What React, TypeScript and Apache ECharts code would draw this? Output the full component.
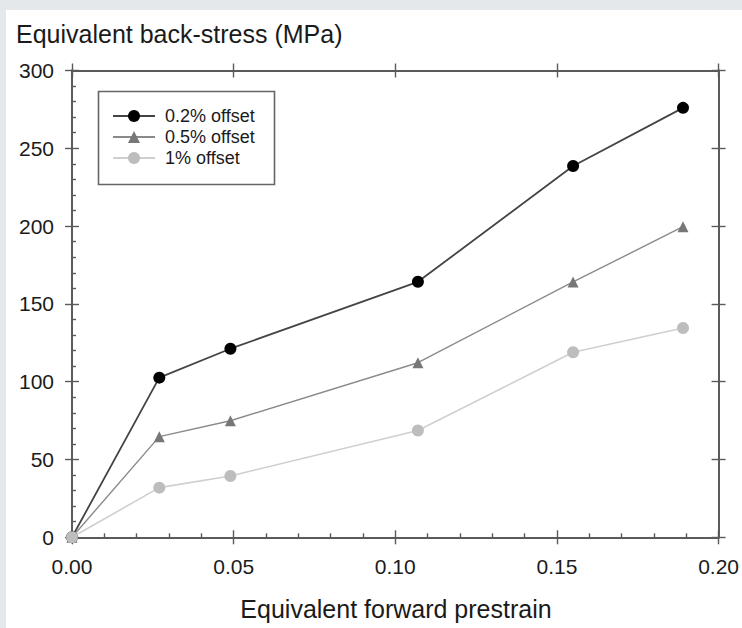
import React, { useEffect, useRef } from "react";
import * as echarts from "echarts";

const strain = [0, 0.027, 0.049, 0.107, 0.155, 0.189];
const offset02 = [0, 102.6, 121.2, 164.2, 238.6, 276];
const offset05 = [0, 64.7, 74.9, 112.2, 164.1, 199.6];
const offset1 = [0, 31.9, 39.4, 68.6, 118.9, 134.5];
const seriesNames = ["0.2% offset", "0.5% offset", "1% offset"];
const xTickLabels = ["0.00", "0.05", "0.10", "0.15", "0.20"];
const yTickLabels = ["0", "50", "100", "150", "200", "250", "300"];
const yTitle = "Equivalent back-stress (MPa)";
const xTitle = "Equivalent forward prestrain";

const FONT = "Liberation Sans, Arial, Helvetica, sans-serif";
const AX = "#5a5a5a";
const TXT = "#1a1a1a";

export default function App() {
  const ref = useRef<HTMLDivElement>(null);
  useEffect(() => {
    if (!ref.current) return;
    const chart = echarts.init(ref.current, null, { renderer: "svg" });
    const axisLine = { show: true, onZero: false, lineStyle: { color: AX, width: 1.8 } };
    const tickStyle = { color: AX, width: 1.4 };
    const baseX = { type: "value", min: 0, max: 0.2, interval: 0.05, splitLine: { show: false } };
    const baseY = { type: "value", min: 0, max: 300, interval: 50, splitLine: { show: false } };
    const toPairs = (ys: number[]) => strain.map((x, i) => [x, ys[i]]);
    chart.setOption({
      animation: false,
      backgroundColor: "#e5e8ea",
      textStyle: { fontFamily: FONT },
      graphic: [
        { type: "rect", z: -10, shape: { x: 6, y: 10, width: 740, height: 620 }, style: { fill: "#ffffff" } },
        { type: "text", left: 16, top: 21, style: { text: yTitle, font: `25px ${FONT}`, fill: TXT } },
        { type: "text", x: 396, y: 596, style: { text: xTitle, font: `25px ${FONT}`, fill: TXT, textAlign: "center" } },
        { type: "rect", shape: { x: 98.5, y: 91.5, width: 176, height: 93 }, style: { fill: "#fff", stroke: "#666", lineWidth: 1.6 }, z: 5 },
      ],
      legend: {
        show: true,
        orient: "vertical",
        left: 112,
        top: 107,
        padding: 0,
        itemWidth: 42,
        itemHeight: 15,
        itemGap: 3,
        z: 10,
        textStyle: { fontSize: 18, color: TXT, fontFamily: FONT, padding: [0, 0, 0, 5], lineHeight: 18 },
        data: seriesNames,
      },
      grid: { left: 72, right: 20, top: 70.5, bottom: 90.7 },
      xAxis: [
        { ...baseX, position: "bottom", axisLine, axisTick: { inside: false, length: 7, lineStyle: tickStyle },
          axisLabel: { margin: 19, fontSize: 21, color: TXT, fontFamily: FONT, formatter: (v: number) => xTickLabels[Math.round(v / 0.05)] } },
        { ...baseX, position: "bottom", axisLine, axisTick: { inside: true, length: 7, lineStyle: tickStyle },
          minorTick: { show: true, splitNumber: 5, length: 4, lineStyle: tickStyle }, axisLabel: { show: false } },
        { ...baseX, position: "top", axisLine, axisTick: { inside: false, length: 7, lineStyle: tickStyle }, axisLabel: { show: false } },
        { ...baseX, position: "top", axisLine, axisTick: { inside: true, length: 7, lineStyle: tickStyle }, axisLabel: { show: false } },
      ],
      yAxis: [
        { ...baseY, position: "left", axisLine, axisTick: { inside: false, length: 7, lineStyle: tickStyle },
          axisLabel: { margin: 18, fontSize: 21, color: TXT, fontFamily: FONT, formatter: (v: number) => yTickLabels[Math.round(v / 50)] } },
        { ...baseY, position: "left", axisLine, axisTick: { inside: true, length: 7, lineStyle: tickStyle },
          minorTick: { show: true, splitNumber: 5, length: 4, lineStyle: tickStyle }, axisLabel: { show: false } },
        { ...baseY, position: "right", axisLine, axisTick: { inside: false, length: 7, lineStyle: tickStyle }, axisLabel: { show: false } },
        { ...baseY, position: "right", axisLine, axisTick: { inside: true, length: 7, lineStyle: tickStyle }, axisLabel: { show: false } },
      ],
      series: [
        { name: seriesNames[0], type: "line", data: toPairs(offset02), symbol: "circle", symbolSize: 12, clip: false,
          itemStyle: { color: "#000" }, lineStyle: { color: "#444", width: 1.8 }, z: 2 },
        { name: seriesNames[1], type: "line", data: toPairs(offset05), symbol: "triangle", symbolSize: 11, clip: false,
          itemStyle: { color: "#777" }, lineStyle: { color: "#8a8a8a", width: 1.4 }, z: 3 },
        { name: seriesNames[2], type: "line", data: toPairs(offset1), symbol: "circle", symbolSize: 12, clip: false,
          itemStyle: { color: "#bdbdbd" }, lineStyle: { color: "#cfcfcf", width: 1.6 }, z: 4 },
      ],
    });
    return () => chart.dispose();
  }, []);
  return <div ref={ref} style={{ position: "fixed", left: 0, top: 0, width: 742, height: 628 }} />;
}
